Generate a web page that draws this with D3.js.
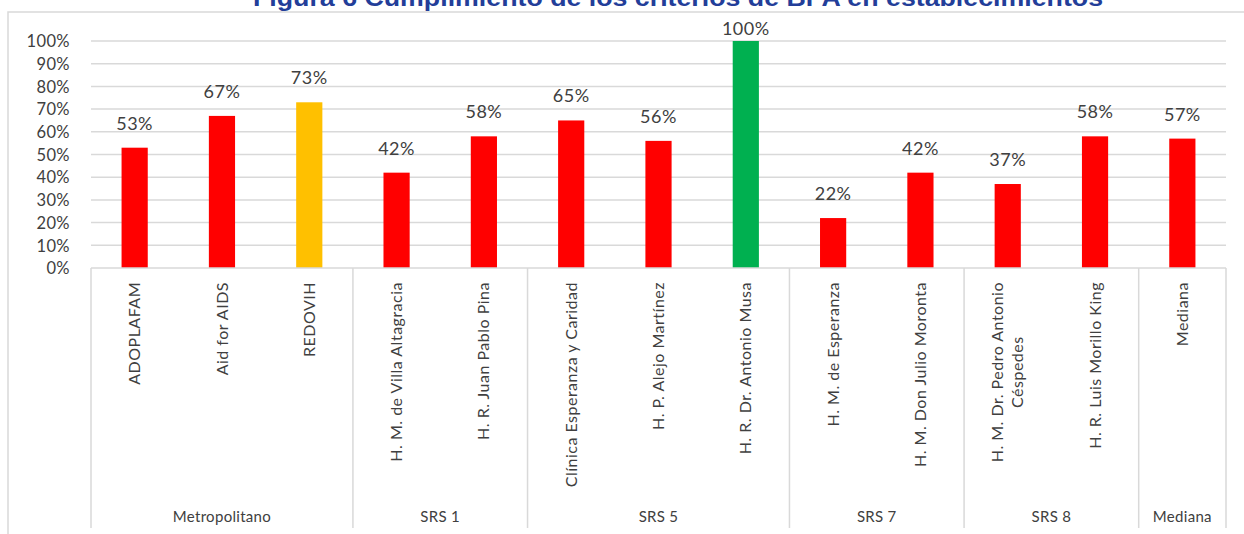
<!DOCTYPE html>
<html>
<head>
<meta charset="utf-8">
<script src="https://cdn.jsdelivr.net/npm/d3@7"></script>
<style>
  body { margin: 0; background: #fff; }
  text { font-family: "Lato", "Open Sans", sans-serif; fill: #404040; }
</style>
</head>
<body>
<script>
// Data
var categories = ["ADOPLAFAM", "Aid for AIDS", "REDOVIH", "H. M. de Villa Altagracia",
  "H. R. Juan Pablo Pina", "Clínica Esperanza y Caridad", "H. P. Alejo Martínez",
  "H. R. Dr. Antonio Musa", "H. M. de Esperanza", "H. M. Don Julio Moronta",
  "H. M. Dr. Pedro Antonio|Céspedes", "H. R. Luis Morillo King", "Mediana"];
var values = [0.53, 0.67, 0.73, 0.42, 0.58, 0.65, 0.56, 1.00, 0.22, 0.42, 0.37, 0.58, 0.57];
var barColors = ["#FF0000", "#FF0000", "#FFC000", "#FF0000", "#FF0000", "#FF0000", "#FF0000",
  "#00B050", "#FF0000", "#FF0000", "#FF0000", "#FF0000", "#FF0000"];
var groups = ["Metropolitano", "SRS 1", "SRS 5", "SRS 7", "SRS 8", "Mediana"];
var groupSizes = [3, 2, 3, 2, 2, 1];
var yTicks = [0, 0.1, 0.2, 0.3, 0.4, 0.5, 0.6, 0.7, 0.8, 0.9, 1.0];

var W = 1244, H = 534;
var margin = {top: 41, left: 91, right: 18, axisY: 268, bottom: 528};

var svg = d3.select("body").append("svg")
    .attr("width", W)
    .attr("height", H);

// outer frame
svg.append("rect")
    .attr("x", 8).attr("y", 12)
    .attr("width", 1250).attr("height", 540)
    .attr("fill", "none")
    .attr("stroke", "#D9D9D9")
    .attr("stroke-width", 1.5);

// title (cut at the top edge, like the source figure)
svg.append("text")
    .attr("x", 678).attr("y", 6)
    .attr("text-anchor", "middle")
    .attr("textLength", 850)
    .attr("lengthAdjust", "spacingAndGlyphs")
    .style("font-family", "Liberation Sans, Arial, sans-serif")
    .style("font-weight", "bold")
    .style("font-size", "24px")
    .style("fill", "#233E99")
    .text("Figura 6 Cumplimiento de los criterios de BPA en establecimientos");

var x = d3.scaleBand()
    .domain(d3.range(categories.length))
    .range([margin.left, W - margin.right])
    .paddingInner(0.7)
    .paddingOuter(0.35);

var y = d3.scaleLinear()
    .domain([0, 1])
    .range([margin.axisY, margin.top]);

// gridlines
svg.append("g")
  .selectAll("line")
  .data(yTicks.slice(1))
  .join("line")
    .attr("x1", margin.left).attr("x2", W - margin.right)
    .attr("y1", function(d) { return y(d); })
    .attr("y2", function(d) { return y(d); })
    .attr("stroke", "#D9D9D9")
    .attr("stroke-width", 1.5);

// y axis
var yAxis = svg.append("g")
    .attr("transform", "translate(" + (margin.left - 18) + ",0)")
    .call(d3.axisLeft(y).tickValues(yTicks).tickFormat(d3.format(".0%")).tickSize(0));
yAxis.select(".domain").remove();
yAxis.selectAll("text")
    .style("font-size", "16.5px")
    .style("letter-spacing", "0.4px")
    .style("fill", "#404040")
    .attr("dy", "0.35em");

// bars
svg.append("g")
  .selectAll("rect")
  .data(values)
  .join("rect")
    .attr("x", function(d, i) { return x(i); })
    .attr("y", function(d) { return y(d); })
    .attr("width", x.bandwidth())
    .attr("height", function(d) { return y(0) - y(d); })
    .attr("fill", function(d, i) { return barColors[i]; });

// data labels
svg.append("g")
  .selectAll("text")
  .data(values)
  .join("text")
    .attr("x", function(d, i) { return x(i) + x.bandwidth() / 2; })
    .attr("y", function(d) { return Math.max(y(d) - 18, 35); })
    .attr("text-anchor", "middle")
    .style("font-size", "18px")
    .style("letter-spacing", "0.5px")
    .text(function(d) { return d3.format(".0%")(d); });

// category axis line
var x0 = margin.left, x1 = W - margin.right;
svg.append("line")
    .attr("x1", x0).attr("x2", x1)
    .attr("y1", margin.axisY).attr("y2", margin.axisY)
    .attr("stroke", "#D9D9D9").attr("stroke-width", 1.5);

// group separators
var bounds = [0];
groupSizes.forEach(function(n) { bounds.push(bounds[bounds.length - 1] + n); });
function edge(k) {
  if (k === 0) return x0;
  if (k === categories.length) return x1;
  return (x(k - 1) + x.bandwidth() + x(k)) / 2;
}
svg.append("g")
  .selectAll("line")
  .data(bounds)
  .join("line")
    .attr("x1", function(k) { return edge(k); })
    .attr("x2", function(k) { return edge(k); })
    .attr("y1", margin.axisY).attr("y2", margin.bottom)
    .attr("stroke", "#D9D9D9").attr("stroke-width", 1.5);

// category labels (rotated)
var cat = svg.append("g")
  .selectAll("text")
  .data(categories)
  .join("text")
    .attr("transform", function(d, i) {
      return "translate(" + (x(i) + x.bandwidth() / 2) + "," + (margin.axisY + 14) + ") rotate(-90)";
    })
    .attr("text-anchor", "end")
    .style("font-size", "16px")
    .style("letter-spacing", "0.5px");
cat.each(function(d) {
  var lines = d.split("|");
  var t = d3.select(this);
  if (lines.length === 1) {
    t.append("tspan").attr("x", 0).attr("dy", "0.35em").text(d);
  } else {
    // centre the two lines on each other, block top at the axis
    var first = t.append("tspan").attr("x", 0).attr("dy", "-0.3em").text(lines[0]);
    var w0 = first.node().getComputedTextLength();
    t.attr("text-anchor", "middle");
    first.attr("x", -w0 / 2);
    t.append("tspan").attr("x", -w0 / 2).attr("dy", "1.25em").text(lines[1]);
  }
});

// group labels
svg.append("g")
  .selectAll("text")
  .data(groups)
  .join("text")
    .attr("x", function(g, i) { return (edge(bounds[i]) + edge(bounds[i + 1])) / 2; })
    .attr("y", 522)
    .attr("text-anchor", "middle")
    .style("font-size", "15px")
    .style("letter-spacing", "0.3px")
    .text(function(g) { return g; });
</script>
</body>
</html>
